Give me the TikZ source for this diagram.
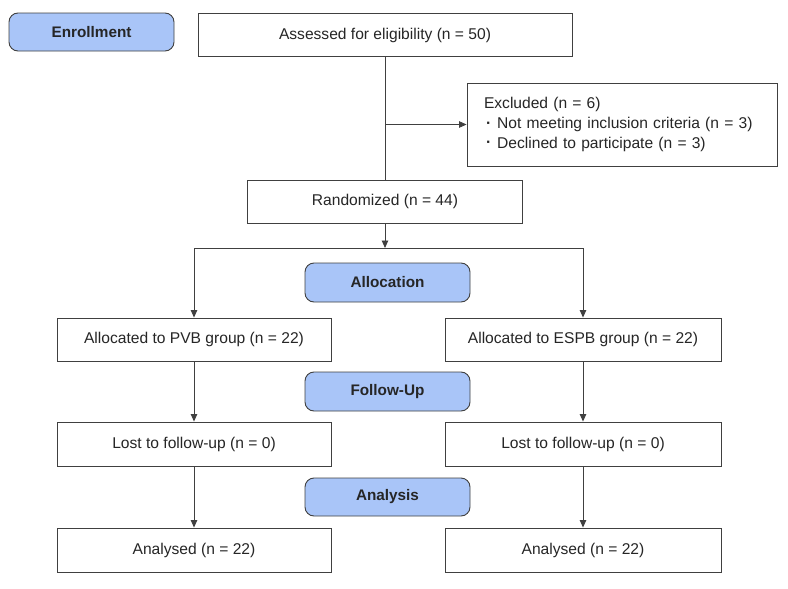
\documentclass[tikz,border=0pt]{standalone}
\usepackage{fontspec}
\setmainfont{Liberation Sans}
\usetikzlibrary{arrows.meta}
\definecolor{phase}{HTML}{A9C5F8}
\definecolor{edge}{HTML}{404040}
\newcommand{\mybul}{\hspace*{2pt}\raisebox{0.5pt}{\textbf{·}}\hspace{6pt}}
\begin{document}
\begin{tikzpicture}[x=1pt,y=-1pt,
  box/.style={draw=edge, line width=0.9pt, fill=white, inner sep=0pt, font=\fontsize{15.6}{18}\selectfont, text=black!85},
  phasebox/.style={draw=edge, line width=0.9pt, fill=phase, rounded corners=9pt, inner sep=0pt, font=\fontsize{15.3}{18}\selectfont\bfseries, text=black!85},
  conn/.style={draw=edge, line width=0.9pt},
  arr/.style={conn, -{Triangle[length=7.5pt,width=6.5pt]}}]
\useasboundingbox (0,0) rectangle (788,589);
% phase labels
\node[phasebox, minimum width=165pt, minimum height=38pt] (enroll) at (91.5,32) {Enrollment};
\node[phasebox, minimum width=165pt, minimum height=39pt] (alloc) at (387.5,282.5) {Allocation};
\node[phasebox, minimum width=165pt, minimum height=39pt] (follow) at (387.5,391.5) {Follow-Up};
\node[phasebox, minimum width=165pt, minimum height=38pt] (analysis) at (387.5,497) {Analysis};
% boxes
\node[box, minimum width=374pt, minimum height=43pt] (assess) at (385,35) {Assessed for eligibility (n = 50)};
\node[box, minimum width=310pt, minimum height=83pt, align=left, text width=276pt, font=\fontsize{15.6}{19.8}\selectfont] (excl) at (622,124.5)
  {Excluded (n = 6)\\
   \mybul Not meeting inclusion criteria (n = 3)\\
   \mybul Declined to participate (n = 3)};
\node[box, minimum width=275pt, minimum height=43pt] (rand) at (385,201.5) {Randomized (n = 44)};
\node[box, minimum width=274pt, minimum height=43pt] (pvb) at (194,339.5) {Allocated to PVB group (n = 22)};
\node[box, minimum width=276pt, minimum height=43pt] (espb) at (583,339.5) {Allocated to ESPB group (n = 22)};
\node[box, minimum width=274pt, minimum height=44pt] (lostl) at (194,444) {Lost to follow-up (n = 0)};
\node[box, minimum width=276pt, minimum height=44pt] (lostr) at (583,444) {Lost to follow-up (n = 0)};
\node[box, minimum width=274pt, minimum height=44pt] (anl) at (194,550) {Analysed (n = 22)};
\node[box, minimum width=276pt, minimum height=44pt] (anr) at (583,550) {Analysed (n = 22)};
% connectors
\coordinate (split) at (385,248);
\draw[conn] (assess.south) -- (rand.north);
\draw[arr] (assess.south |- excl.west) -- (excl.west);
\draw[arr] (rand.south) -- (split);
\draw[conn] (pvb.north |- split) -- (espb.north |- split);
\draw[arr] (pvb.north |- split) -- (pvb.north);
\draw[arr] (espb.north |- split) -- (espb.north);
\draw[arr] (pvb.south) -- (lostl.north);
\draw[arr] (espb.south) -- (lostr.north);
\draw[arr] (lostl.south) -- (anl.north);
\draw[arr] (lostr.south) -- (anr.north);
\end{tikzpicture}
\end{document}
